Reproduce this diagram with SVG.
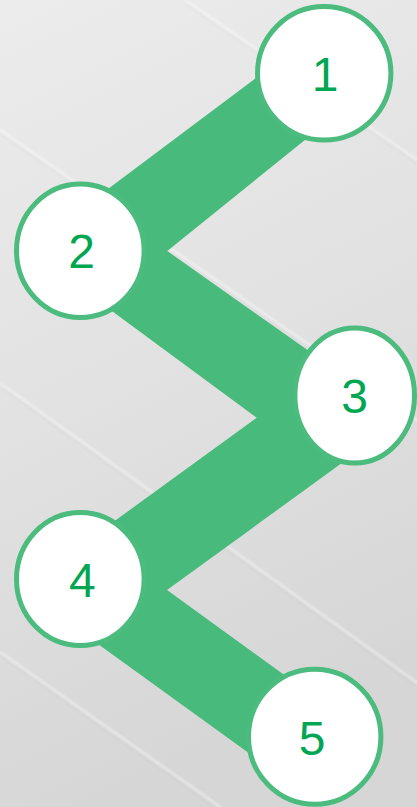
<svg xmlns="http://www.w3.org/2000/svg" width="417" height="807" viewBox="0 0 417 807">
  <defs>
    <linearGradient id="bg" x1="0" y1="0" x2="0.25" y2="1">
      <stop offset="0" stop-color="#ececec"/>
      <stop offset="0.5" stop-color="#e2e2e2"/>
      <stop offset="1" stop-color="#d6d6d6"/>
    </linearGradient>
    <filter id="soft" x="-5%" y="-5%" width="110%" height="110%">
      <feGaussianBlur stdDeviation="0.8"/>
    </filter>
  </defs>
  <style>
    .hl { stroke: #ffffff; stroke-opacity: 0.45; stroke-width: 2.5; fill: none; }
    .sh { stroke: #000000; stroke-opacity: 0.04; stroke-width: 2.5; fill: none; }
    .band { fill: #48bb7c; }
    .node { fill: #ffffff; stroke: #4bbb7e; stroke-width: 5; }
    .num { font-family: "Liberation Sans", Arial, sans-serif; font-size: 48px; fill: #00a651; text-anchor: middle; }
  </style>

  <g id="background">
    <rect x="0" y="0" width="417" height="807" fill="url(#bg)"/>
    <g filter="url(#soft)">
      <line class="sh" x1="185" y1="3" x2="420" y2="165"/>
      <line class="hl" x1="185" y1="0" x2="420" y2="162"/>
      <line class="sh" x1="0" y1="133" x2="420" y2="425"/>
      <line class="hl" x1="0" y1="130" x2="420" y2="422"/>
      <line class="sh" x1="0" y1="386" x2="420" y2="688"/>
      <line class="hl" x1="0" y1="383" x2="420" y2="685"/>
      <line class="sh" x1="0" y1="655" x2="230" y2="817"/>
      <line class="hl" x1="0" y1="652" x2="230" y2="814"/>
    </g>
  </g>

  <g id="connectors">
    <polygon class="band" points="324,27 27.9,249.1 256.7,417.7 21.5,588.7 270,768.5 320,701 167,590 403.8,418.1 167.3,251 340,111.8"/>
  </g>

  <g id="node1">
    <ellipse class="node" cx="324.2" cy="73.3" rx="66.7" ry="66.7"/>
    <text class="num" x="325.1" y="91">1</text>
  </g>
  <g id="node2">
    <ellipse class="node" cx="80.3" cy="250.8" rx="63.8" ry="66.7"/>
    <text class="num" x="81.7" y="268.3">2</text>
  </g>
  <g id="node3">
    <ellipse class="node" cx="354.7" cy="395.5" rx="59.8" ry="67.5"/>
    <text class="num" x="354.7" y="413">3</text>
  </g>
  <g id="node4">
    <ellipse class="node" cx="80.3" cy="579" rx="63.8" ry="66.5"/>
    <text class="num" x="82.3" y="597">4</text>
  </g>
  <g id="node5">
    <ellipse class="node" cx="314.7" cy="736.7" rx="66.2" ry="67.5"/>
    <text class="num" x="312" y="755">5</text>
  </g>
</svg>
